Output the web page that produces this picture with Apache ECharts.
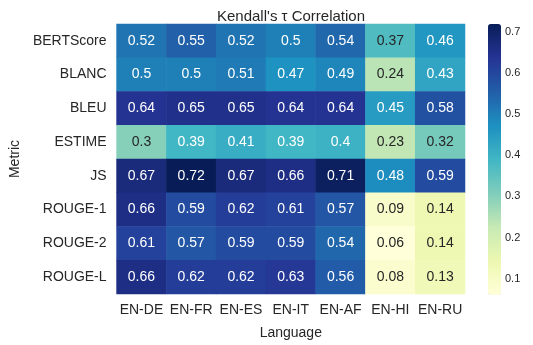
<!DOCTYPE html>
<html><head><meta charset="utf-8">
<script src="https://cdn.jsdelivr.net/npm/echarts@6/dist/echarts.min.js"></script>
<style>html,body{margin:0;padding:0;background:#fff}#c{width:533px;height:345px}</style>
</head><body><div id="c"></div>
<script>
const languages = ['EN-DE','EN-FR','EN-ES','EN-IT','EN-AF','EN-HI','EN-RU'];
const metrics = ['BERTScore','BLANC','BLEU','ESTIME','JS','ROUGE-1','ROUGE-2','ROUGE-L'];
const bertscore = [0.52,0.55,0.52,0.5,0.54,0.37,0.46];
const blanc = [0.5,0.5,0.51,0.47,0.49,0.24,0.43];
const bleu = [0.64,0.65,0.65,0.64,0.64,0.45,0.58];
const estime = [0.3,0.39,0.41,0.39,0.4,0.23,0.32];
const js = [0.67,0.72,0.67,0.66,0.71,0.48,0.59];
const rouge1 = [0.66,0.59,0.62,0.61,0.57,0.09,0.14];
const rouge2 = [0.61,0.57,0.59,0.59,0.54,0.06,0.14];
const rougeL = [0.66,0.62,0.62,0.63,0.56,0.08,0.13];
const colorbarTicks = [0.1,0.2,0.3,0.4,0.5,0.6,0.7];

const rows = [bertscore, blanc, bleu, estime, js, rouge1, rouge2, rougeL];
const vmin = 0.06, vmax = 0.72;
const data = [];
rows.forEach((r, yi) => r.forEach((v, xi) => {
  data.push({value: [xi, yi, v], label: {color: v < 0.38 ? '#262626' : '#ffffff'}});
}));
const ylgnbu = ['#ffffd9','#edf8b1','#c7e9b4','#7fcdbb','#41b6c4','#1d91c0','#225ea8','#253494','#081d58'];
const font = 'Liberation Sans, Arial, sans-serif';
const chart = echarts.init(document.getElementById('c'));
chart.setOption({
  animation: false,
  title: {text: "Kendall's \u03c4 Correlation", left: 286, textAlign: 'center', top: 4,
    textStyle: {fontFamily: font, fontSize: 15, fontWeight: 'normal', color: '#262626'}},
  grid: [
    {left: 108, top: 24, width: 357, height: 271},
    {left: 488, top: 24, width: 13, height: 271}
  ],
  xAxis: [
    {type: 'category', data: languages, gridIndex: 0, axisLine: {show: false}, axisTick: {show: false},
     axisLabel: {interval: 0, fontFamily: font, fontSize: 14, color: '#262626', margin: 9},
     name: 'Language', nameLocation: 'middle', nameGap: 32,
     nameTextStyle: {fontFamily: font, fontSize: 14, color: '#262626'}},
    {type: 'value', gridIndex: 1, show: false, min: 0, max: 1}
  ],
  yAxis: [
    {type: 'category', data: metrics, inverse: true, gridIndex: 0, axisLine: {show: false}, axisTick: {show: false},
     axisLabel: {interval: 0, fontFamily: font, fontSize: 14, color: '#262626', margin: 10},
     name: 'Metric', nameLocation: 'middle', nameGap: 93, nameRotate: 90,
     nameTextStyle: {fontFamily: font, fontSize: 14, color: '#262626'}},
    {type: 'value', gridIndex: 1, min: vmin, max: vmax, position: 'right',
     axisLine: {show: false}, splitLine: {show: false},
     axisTick: {show: true, length: 4, lineStyle: {color: '#262626'}, customValues: colorbarTicks},
     axisLabel: {fontFamily: font, fontSize: 11, color: '#262626', margin: 4, customValues: colorbarTicks}}
  ],
  visualMap: {
    type: 'continuous', min: vmin, max: vmax, seriesIndex: 0, calculable: false,
    orient: 'vertical', left: 488, top: 24, padding: 0, itemWidth: 13, itemHeight: 271,
    text: ['', ''], showLabel: false, inRange: {color: ylgnbu}
  },
  series: [
    {type: 'heatmap', xAxisIndex: 0, yAxisIndex: 0, data: data,
     label: {show: true, fontFamily: font, fontSize: 14, formatter: p => String(p.value[2])},
     itemStyle: {borderWidth: 0}, emphasis: {disabled: true}},
    {type: 'line', xAxisIndex: 1, yAxisIndex: 1, data: [], silent: true}
  ]
});
</script></body></html>
